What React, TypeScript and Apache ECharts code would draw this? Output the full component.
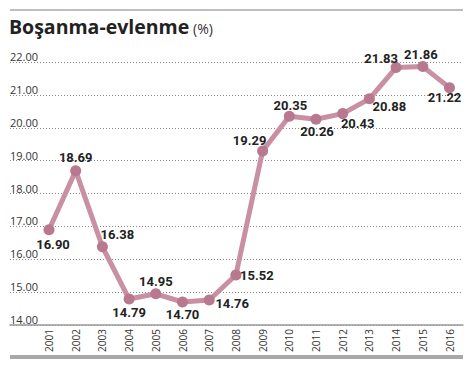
import React, { useEffect, useRef } from "react";
import * as echarts from "echarts";

const years = ["2001","2002","2003","2004","2005","2006","2007","2008","2009","2010","2011","2012","2013","2014","2015","2016"];
const ratio = [16.90, 18.69, 16.38, 14.79, 14.95, 14.70, 14.76, 15.52, 19.29, 20.35, 20.26, 20.43, 20.88, 21.83, 21.86, 21.22];
const yMin = 14;
const yMax = 22;
const yStep = 1;

// label placement (style only): offset of each value label from its point
const labelOffsets: [number, number][] = [
  [4, 15], [0, -13], [15, -12], [0, 13], [0, -12], [0, 13], [23, 3], [21, 0],
  [-13, -11], [1, -11], [1, 12], [15, 10], [20, 8], [-15, -9], [-2, -12], [-5, 10],
];

const TOP = 62;
const BOTTOM = 41;

export default function App() {
  const ref = useRef<HTMLDivElement>(null);
  useEffect(() => {
    if (!ref.current) return;
    const chart = echarts.init(ref.current, null, { renderer: "svg" });
    const labelFont = "'Liberation Sans Narrow', 'Roboto', sans-serif";
    chart.setOption({
      animation: false,
      backgroundColor: "#ffffff",
      graphic: [
        { type: "line", shape: { x1: 10, y1: 10, x2: 463, y2: 10 }, style: { stroke: "#a9a9a9", lineWidth: 1.5 } },
        {
          type: "text", left: 9, top: 16,
          style: { text: "Boşanma-evlenme", font: "bold 19.5px 'Open Sans', sans-serif", fill: "#222" },
        },
        {
          type: "text", left: 193, top: 21,
          style: { text: "(%)", font: "14px 'Open Sans', sans-serif", fill: "#333" },
        },
        { type: "rect", shape: { x: 10, y: 355, width: 453, height: 4 }, style: { fill: "#a8a8a8" } },
      ],
      grid: [
        { left: 10, right: 13, top: TOP, bottom: BOTTOM },
        { left: 49, right: 26.5, top: TOP, bottom: BOTTOM },
      ],
      xAxis: [
        {
          gridIndex: 0, type: "value", min: 0, max: 1,
          axisLine: { show: true, lineStyle: { color: "#999", width: 1.5 } },
          axisTick: { show: false }, axisLabel: { show: false }, splitLine: { show: false },
        },
        {
          gridIndex: 1, type: "category", data: years, boundaryGap: false,
          axisLine: { show: false }, axisTick: { show: false }, splitLine: { show: false },
          axisLabel: {
            rotate: 90, margin: 4, color: "#333",
            fontFamily: "'Open Sans', sans-serif", fontSize: 10,
          },
        },
      ],
      yAxis: [
        {
          gridIndex: 0, type: "value", min: yMin, max: yMax, interval: yStep,
          axisLine: { show: false }, axisTick: { show: false },
          axisLabel: {
            inside: true, verticalAlign: "bottom", margin: 0,
            formatter: (v: number) => v.toFixed(2),
            color: "#333", fontFamily: "'Open Sans', sans-serif", fontSize: 11,
          },
          splitLine: { show: true, lineStyle: { color: "#888", type: [1, 2], width: 1 } },
        },
        {
          gridIndex: 1, type: "value", min: yMin, max: yMax, interval: yStep, show: false,
          splitLine: { show: false },
        },
      ],
      series: [
        {
          type: "line",
          xAxisIndex: 1, yAxisIndex: 1,
          data: ratio.map((v, i) => ({
            value: v,
            label: { offset: labelOffsets[i] },
          })),
          symbol: "circle",
          symbolSize: 11,
          lineStyle: { color: "#c98fa2", width: 5 },
          itemStyle: { color: "#b8788f" },
          label: {
            show: true, position: "inside",
            formatter: (p: any) => Number(p.value).toFixed(2),
            color: "#222", fontWeight: "bold", fontSize: 13, fontFamily: labelFont,
            textBorderWidth: 0,
          },
          z: 3,
        },
      ],
    });
    return () => chart.dispose();
  }, []);
  return <div ref={ref} style={{ width: 476, height: 366, position: "absolute", left: 0, top: 0 }} />;
}
